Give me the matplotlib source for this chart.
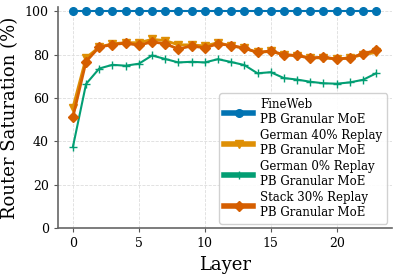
import matplotlib
matplotlib.use("Agg")
import matplotlib.pyplot as plt
import numpy as np

layers = list(range(24))
fineweb = [100.0] * 24
german40 = [55.5, 78.5, 83.5, 85.0, 85.5, 85.5, 87.0, 86.5, 84.5, 84.5, 84.0, 85.5,
            84.0, 83.0, 81.0, 81.5, 80.0, 79.5, 78.5, 78.5, 78.0, 78.5, 80.0, 81.0]
german0 = [37.4, 66.5, 73.6, 75.3, 74.9, 75.8, 79.6, 78.0, 76.4, 76.7, 76.4, 77.9,
           76.6, 75.2, 71.4, 71.9, 69.2, 68.5, 67.5, 66.8, 66.6, 67.2, 68.4, 71.4]
stack30 = [51.2, 76.8, 83.5, 84.6, 85.3, 84.3, 85.9, 85.0, 82.6, 84.0, 83.1, 85.0,
           84.2, 83.0, 81.0, 81.7, 79.9, 79.6, 78.4, 78.9, 77.9, 78.5, 80.4, 82.0]

labels = ["FineWeb\nPB Granular MoE", "German 40% Replay\nPB Granular MoE",
          "German 0% Replay\nPB Granular MoE", "Stack 30% Replay\nPB Granular MoE"]
colors = ["#0173b2", "#de8f05", "#029e73", "#d55e00"]

plt.rcParams['font.family'] = ['DejaVu Serif']
fig, ax = plt.subplots(figsize=(3.98, 2.75), dpi=100)

ax.plot(layers, fineweb, color=colors[0], marker='o', ms=5.5, lw=1.5, label=labels[0])
ax.plot(layers, german40, color=colors[1], marker='v', ms=6, lw=2, label=labels[1])
ax.plot(layers, german0, color=colors[2], marker='+', ms=6, lw=1.5, label=labels[2])
ax.plot(layers, stack30, color=colors[3], marker='D', ms=5, lw=2, label=labels[3])

ax.set_xlim(-1.15, 24.2)
ax.set_ylim(0, 102)
ax.set_xticks([0, 5, 10, 15, 20])
ax.set_yticks([0, 20, 40, 60, 80, 100])
ax.tick_params(labelsize=9, color='#555555', length=3)
ax.set_xlabel("Layer", fontsize=13)
ax.set_ylabel("Router Saturation (%)", fontsize=13)
ax.grid(True, ls='--', color='#dddddd', lw=0.6)
for s in ['top', 'right']:
    ax.spines[s].set_visible(False)
for s in ['left', 'bottom']:
    ax.spines[s].set_color('#666666')
    ax.spines[s].set_linewidth(1.2)

leg = ax.legend(loc='lower right', fontsize=8.5, handlelength=2.5,
                labelspacing=0.25, borderpad=0.4, handletextpad=0.6,
                borderaxespad=0.4, framealpha=0.9)
for line in leg.get_lines():
    line.set_linewidth(4)

fig.subplots_adjust(left=0.145, right=0.985, top=0.975, bottom=0.17)
fig.savefig("out.png", dpi=100)
